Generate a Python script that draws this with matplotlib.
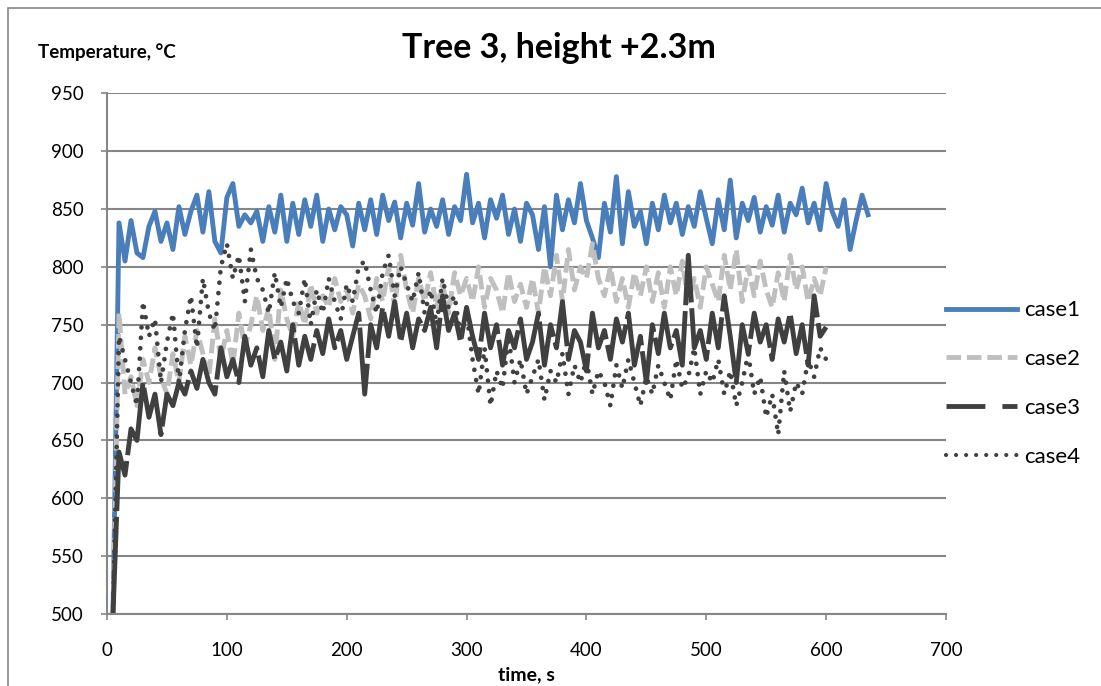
import matplotlib
matplotlib.use('Agg')
import matplotlib.pyplot as plt
from matplotlib.patches import Rectangle
from matplotlib.lines import Line2D
import numpy as np

plt.rcParams['font.family'] = ['Lato', 'DejaVu Sans']

# time axis (s), 5 s step
t1 = np.arange(5, 640, 5)
t2 = np.arange(5, 605, 5)

case1 = [500, 838, 805, 840, 812, 808, 835, 848, 822, 838,
         815, 852, 828, 848, 862, 830, 865, 822, 812, 860,
         872, 835, 845, 838, 848, 822, 852, 830, 862, 822,
         855, 828, 858, 835, 862, 822, 850, 832, 852, 845,
         818, 855, 832, 858, 828, 862, 840, 856, 825, 855,
         836, 872, 830, 850, 835, 858, 828, 852, 840, 880,
         838, 855, 825, 858, 842, 862, 828, 850, 822, 855,
         845, 815, 852, 800, 862, 832, 858, 838, 872, 840,
         825, 808, 855, 830, 878, 820, 865, 835, 848, 820,
         855, 832, 862, 838, 855, 828, 852, 835, 865, 842,
         820, 858, 832, 875, 825, 855, 840, 860, 830, 852,
         836, 862, 830, 855, 845, 868, 838, 855, 832, 872,
         848, 835, 858, 815, 840, 862, 845]

case2 = [500, 760, 690, 705, 680, 720, 700, 730, 705, 690,
         725, 700, 740, 715, 745, 725, 705, 755, 720, 745,
         715, 760, 730, 750, 775, 745, 765, 720, 780, 755,
         740, 770, 750, 785, 760, 775, 765, 790, 770, 780,
         760, 785, 775, 755, 790, 770, 800, 765, 810, 780,
         760, 790, 770, 795, 765, 785, 760, 795, 775, 790,
         770, 800, 765, 790, 780, 760, 795, 770, 785, 765,
         790, 760, 800, 775, 810, 770, 815, 780, 800, 790,
         820, 790, 775, 800, 770, 790, 765, 795, 775, 800,
         770, 795, 765, 800, 775, 805, 770, 790, 765, 800,
         785, 770, 810, 780, 815, 770, 800, 775, 805, 780,
         765, 795, 770, 810, 780, 800, 770, 790, 775, 800]

case3 = [500, 640, 620, 660, 650, 700, 670, 690, 655, 690,
         680, 700, 690, 710, 695, 720, 700, 690, 730, 705,
         720, 700, 740, 715, 730, 705, 745, 720, 735, 710,
         750, 715, 740, 720, 745, 725, 755, 730, 745, 720,
         740, 760, 690, 750, 730, 765, 740, 770, 735, 760,
         730, 755, 745, 765, 730, 775, 745, 760, 735, 765,
         740, 720, 760, 730, 750, 715, 745, 730, 755, 720,
         735, 760, 715, 750, 730, 770, 720, 745, 735, 710,
         760, 730, 745, 720, 755, 735, 760, 715, 740, 700,
         750, 725, 760, 730, 745, 715, 810, 730, 745, 720,
         760, 730, 775, 740, 700, 750, 725, 760, 735, 750,
         720, 755, 735, 760, 725, 750, 715, 775, 740, 748]

case4 = [500, 740, 720, 700, 680, 770, 740, 755, 700, 735,
         760, 700, 745, 775, 730, 790, 760, 745, 800, 820,
         790, 810, 770, 815, 790, 780, 760, 795, 765, 790,
         770, 760, 790, 750, 780, 760, 790, 770, 755, 785,
         770, 800, 805, 780, 760, 795, 810, 775, 800, 785,
         770, 795, 760, 780, 750, 790, 765, 775, 740, 760,
         720, 690, 730, 680, 710, 695, 740, 700, 720, 690,
         705, 720, 685, 710, 700, 725, 690, 715, 700, 720,
         690, 710, 700, 680, 715, 695, 720, 700, 680, 705,
         690, 715, 700, 685, 720, 695, 705, 730, 690, 710,
         700, 720, 690, 710, 680, 700, 725, 690, 705, 670,
         690, 655, 710, 675, 700, 690, 720, 705, 730, 720]

labels = ['case1', 'case2', 'case3', 'case4']

fig = plt.figure(figsize=(11.01, 6.86), dpi=100)
ax = fig.add_axes([0.0972, 0.105, 0.762, 0.759])

ax.plot(t1, case1, color='#4a7ebb', lw=3.5)
ax.plot(t2, case2, color='#bfbfbf', lw=3.5, dashes=(3, 1.2))
ax.plot(t2, case3, color='#404040', lw=3.5, dashes=(20, 1.2))
ax.plot(t2, case4, color='#404040', lw=3.4, linestyle=(0, (0.01, 2.2)),
        dash_capstyle='round')

# legend handles (the dash pattern is only readable on a short straight line)
handles = [Line2D([], [], color='#4a7ebb', lw=3.5),
           Line2D([], [], color='#bfbfbf', lw=3.5, dashes=(3, 1.2)),
           Line2D([], [], color='#404040', lw=3.5, dashes=(8, 3.5)),
           Line2D([], [], color='#404040', lw=3.0, linestyle=(0, (0.01, 2.4)),
                  dash_capstyle='round')]

ax.set_xlim(0, 700)
ax.set_ylim(500, 950)
ax.set_xticks(np.arange(0, 701, 100))
ax.set_yticks(np.arange(500, 951, 50))
ax.yaxis.grid(True, color='#868686', lw=1.5)
ax.set_axisbelow(True)
for s in ['top', 'right']:
    ax.spines[s].set_visible(False)
for s in ['left', 'bottom']:
    ax.spines[s].set_color('#868686')
    ax.spines[s].set_linewidth(1.5)
ax.tick_params(axis='both', colors='#868686', labelcolor='black',
               labelsize=13.5, length=4.5, width=1.2, direction='out')
ax.tick_params(axis='x', pad=16)
ax.tick_params(axis='y', pad=12)

ax.set_xlabel('time, s', fontsize=14, fontweight='bold', labelpad=5)
fig.text(0.0345, 0.924, 'Temperature, °C', fontsize=13.5, fontweight='bold',
         va='center', ha='left')
fig.text(0.508, 0.930, 'Tree 3, height +2.3m', fontsize=24.5, fontweight='bold',
         va='center', ha='center')

ax.legend(handles, labels, loc='center left', bbox_to_anchor=(1.0, 0.4424),
          frameon=False, fontsize=16, handlelength=3.2, labelspacing=1.3,
          handletextpad=0.3, borderpad=0, borderaxespad=0)

fig.patches.append(Rectangle((8 / 1101, -0.1), 1.2, 1.1 - 8 / 686,
                             transform=fig.transFigure, fill=False,
                             edgecolor='#868686', lw=1.2))

plt.savefig('out.png', dpi=100)
